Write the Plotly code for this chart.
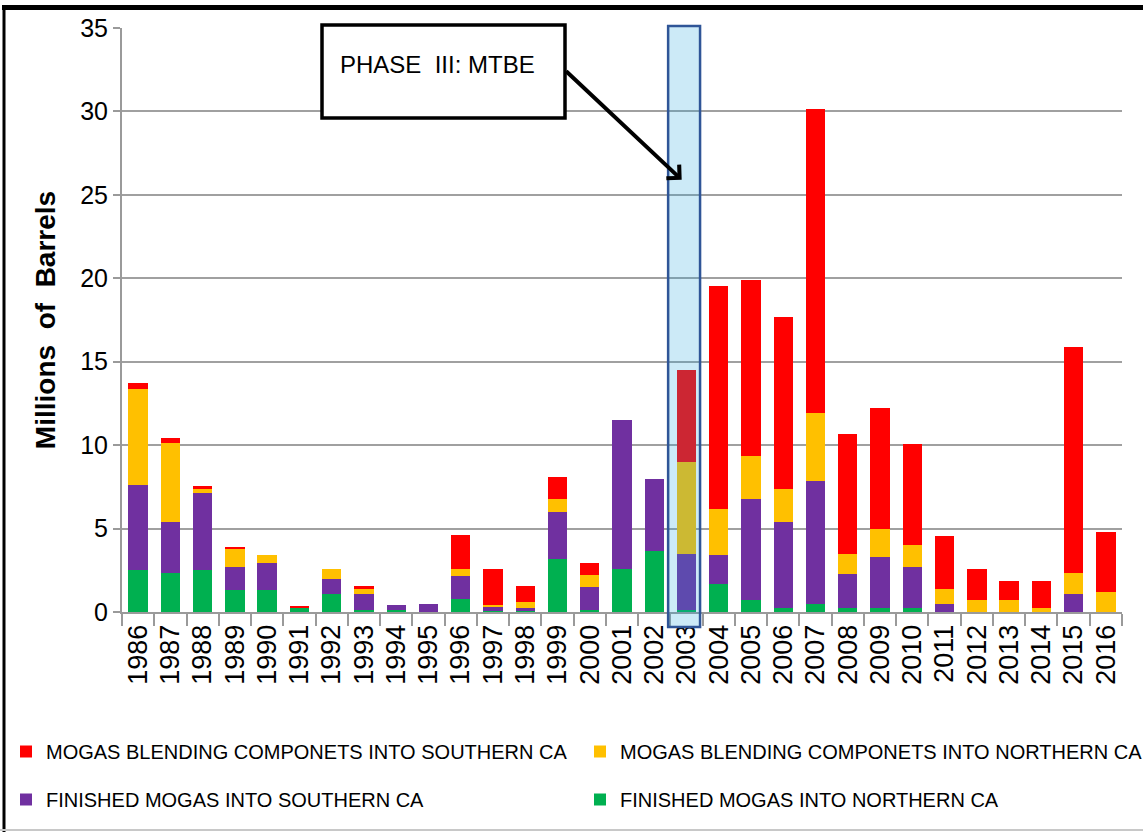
import plotly.graph_objects as go

years = [str(y) for y in range(1986, 2017)]

# Millions of barrels by year, stacked bottom to top
finished_north = [2.5, 2.35, 2.5, 1.3, 1.3, 0.25, 1.05, 0.15, 0.15, 0.0,
                  0.75, 0.05, 0.05, 3.2, 0.15, 2.6, 3.65, 0.15, 1.65, 0.7,
                  0.25, 0.5, 0.25, 0.25, 0.25, 0.0, 0.0, 0.0, 0.0, 0.0, 0.0]
finished_south = [5.1, 3.05, 4.65, 1.4, 1.65, 0.0, 0.95, 0.9, 0.25, 0.5,
                  1.4, 0.25, 0.2, 2.8, 1.35, 8.9, 4.3, 3.35, 1.75, 6.1,
                  5.15, 7.35, 2.0, 3.05, 2.45, 0.45, 0.0, 0.0, 0.0, 1.05, 0.0]
blending_north = [5.75, 4.75, 0.25, 1.05, 0.45, 0.0, 0.6, 0.35, 0.0, 0.0,
                  0.45, 0.1, 0.35, 0.8, 0.7, 0.0, 0.0, 5.5, 2.8, 2.55,
                  2.0, 4.05, 1.25, 1.65, 1.3, 0.95, 0.7, 0.7, 0.25, 1.3, 1.2]
blending_south = [0.35, 0.3, 0.15, 0.12, 0.0, 0.12, 0.0, 0.15, 0.0, 0.0,
                  2.0, 2.15, 0.95, 1.3, 0.75, 0.0, 0.0, 5.5, 13.35, 10.55,
                  10.3, 18.25, 7.15, 7.25, 6.05, 3.15, 1.9, 1.15, 1.6, 13.55, 3.6]

# (label, values, colour, legend id) in stacking order
series = [
    ("FINISHED MOGAS INTO NORTHERN CA", finished_north, "#00B050", "legend4"),
    ("FINISHED MOGAS INTO SOUTHERN CA", finished_south, "#7030A0", "legend3"),
    ("MOGAS BLENDING COMPONETS INTO NORTHERN CA", blending_north, "#FFC000", "legend2"),
    ("MOGAS BLENDING COMPONETS INTO SOUTHERN CA", blending_south, "#FF0000", "legend"),
]

FONT = "Liberation Sans, Arial, sans-serif"

fig = go.Figure()
for name, vals, color, leg in series:
    fig.add_trace(go.Bar(
        x=years, y=vals, name=name, marker_color=color,
        marker_line_width=0, legend=leg,
    ))

# plot area: x 122..1122 px, y 28..612 px
L, R, T, B = 122, 21, 28, 220
W, H = 1143, 832
pw, ph = W - L - R, H - T - B


def px_x(p):
    return (p - L) / pw


def px_y(p):
    return (H - B - p) / ph


def legend_at(left, top):
    return dict(
        orientation="h", x=px_x(left), y=px_y(top), xanchor="left", yanchor="top",
        font=dict(size=20, family=FONT), bgcolor="rgba(0,0,0,0)", itemwidth=30,
    )


fig.update_layout(
    width=W, height=H,
    margin=dict(l=L, r=R, t=T, b=B, autoexpand=False),
    barmode="stack", bargap=0.4,
    paper_bgcolor="white", plot_bgcolor="white",
    font=dict(family=FONT, color="black"),
    showlegend=True,
    legend=legend_at(6, 732),
    legend2=legend_at(580, 732),
    legend3=legend_at(6, 780),
    legend4=legend_at(580, 780),
    xaxis=dict(
        type="category", range=[-0.5, 30.5], tickangle=-90,
        tickfont=dict(size=27, family=FONT),
        showline=True, linecolor="#9A9A9A", linewidth=2,
        ticks="outside", tickson="boundaries", ticklen=12, tickcolor="#9A9A9A",
        tickwidth=1.5, showgrid=False,
    ),
    yaxis=dict(
        range=[0, 35], dtick=5, tickfont=dict(size=25, family=FONT),
        showline=True, linecolor="#9A9A9A", linewidth=2,
        ticks="outside", ticklen=7, tickcolor="#9A9A9A", tickwidth=1.5,
        showgrid=True, gridcolor="#A0A0A0", gridwidth=2, zeroline=False,
        title=dict(text="Millions\u00a0 of\u00a0 Barrels",
                   font=dict(size=28, family=FONT, weight="bold"), standoff=16),
    ),
)

# outer frame of the figure
fig.add_shape(type="line", xref="paper", yref="paper",
              x0=px_x(4), x1=px_x(4), y0=px_y(8), y1=px_y(832),
              line=dict(color="black", width=3))
fig.add_shape(type="line", xref="paper", yref="paper",
              x0=px_x(2), x1=px_x(1143), y0=px_y(7.5), y1=px_y(7.5),
              line=dict(color="black", width=5))
fig.add_shape(type="line", xref="paper", yref="paper",
              x0=px_x(0), x1=px_x(1143), y0=px_y(830), y1=px_y(830),
              line=dict(color="#C8C8C8", width=2))

# highlight of the 2003 column
fig.add_shape(type="rect", xref="x", yref="paper",
              x0=16.43, x1=17.42, y0=px_y(627), y1=px_y(26),
              fillcolor="rgba(33,165,222,0.23)",
              line=dict(color="#2F5597", width=2.5), layer="above")

# callout box
fig.add_shape(type="rect", xref="paper", yref="paper",
              x0=px_x(322), x1=px_x(565), y0=px_y(118), y1=px_y(25),
              fillcolor="white", line=dict(color="black", width=3.5), layer="above")
fig.add_annotation(xref="paper", yref="paper", x=px_x(338), y=px_y(64),
                   xanchor="left", yanchor="middle", showarrow=False,
                   text="PHASE\u00a0 III: MTBE", font=dict(size=24, family=FONT))
fig.add_annotation(xref="x", yref="y", x=16.85, y=25.9, ax=-117, ay=-110,
                   text="", showarrow=True, arrowhead=4, arrowsize=0.9,
                   arrowwidth=4, arrowcolor="black", standoff=0)

fig.write_html("out.html")
